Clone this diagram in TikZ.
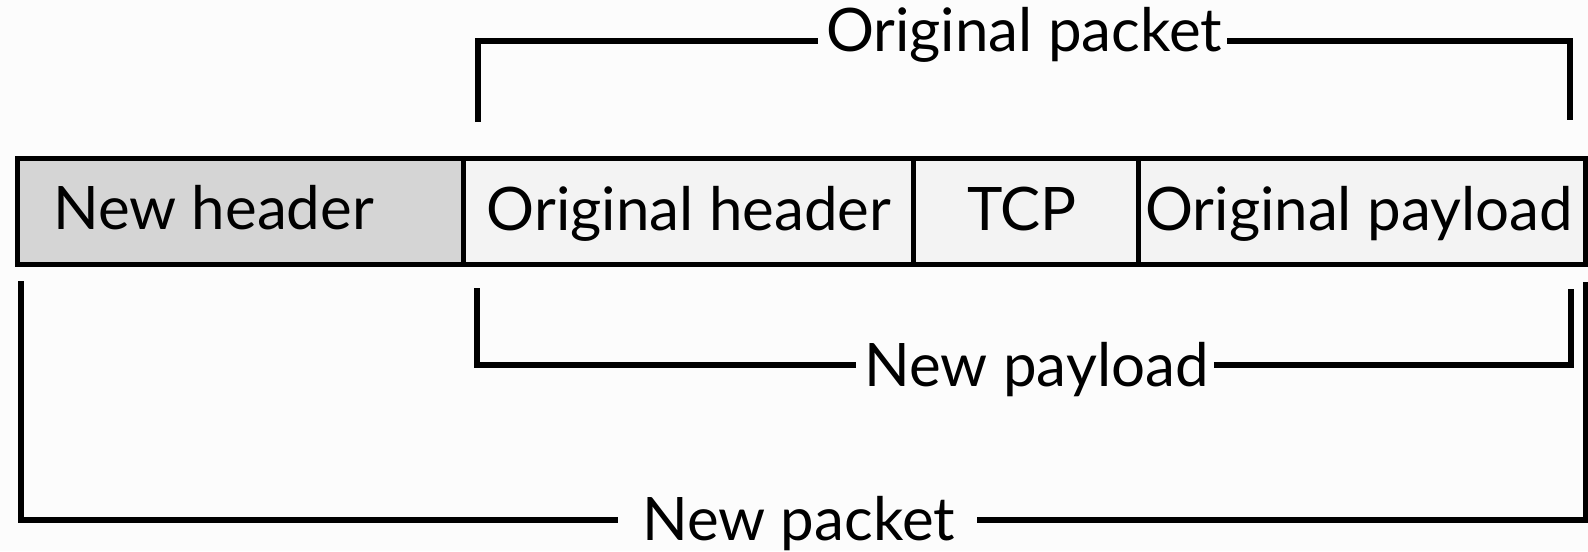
\documentclass[tikz,border=0pt]{standalone}
\usepackage{fontspec}
\setmainfont{Lato}
\usetikzlibrary{calc}
\definecolor{bg}{HTML}{FCFCFC}
\definecolor{hdrfill}{HTML}{D5D5D5}
\definecolor{cellfill}{HTML}{F3F3F3}
\begin{document}
\begin{tikzpicture}[x=0.5pt,y=-0.5pt,
  cell/.style={draw=black, line width=2.5pt, inner sep=0pt, minimum height=53pt, anchor=west},
  txt/.style={font=\fontsize{30pt}{36pt}\selectfont, inner sep=0pt, anchor=base},
  bracket/.style={draw=black, line width=3pt, line cap=butt, line join=miter}]
% canvas
\fill[bg] (0,0) rectangle (1588,551);
\useasboundingbox (0,0) rectangle (1588,551);

% packet fields
\node[cell, fill=hdrfill, minimum width=223.25pt] (nh) at (14.5,211.5) {};
\node[cell, fill=cellfill, minimum width=225pt] (oh) at (461,211.5) {};
\node[cell, fill=cellfill, minimum width=112.25pt] (tcp) at (911,211.5) {};
\node[cell, fill=cellfill, minimum width=223.5pt] (pl) at (1135.5,211.5) {};

\node[txt] (tnh) at (213.5,229) {New header};
\node[txt] (toh) at (689,230) {Original header};
\node[txt] (ttcp) at (1022,230) {TCP};
\node[txt] (tpl) at (1359,230) {Original payload};

% bracket labels
\node[txt] (op) at (1024,52) {Original packet};
\node[txt] (np) at (1036.5,386) {New payload};
\node[txt] (nk) at (798.5,540) {New packet};

% bracket ends and rails
\coordinate (opL) at (478,122);
\coordinate (opR) at (1570,120);
\coordinate (opY) at (0,41);
\coordinate (npL) at (477,288);
\coordinate (npR) at (1571,289);
\coordinate (npY) at (0,365);
\coordinate (nkL) at (20.5,281);
\coordinate (nkR) at (1585.5,282);
\coordinate (nkY) at (0,520);

% original packet bracket
\draw[bracket] (opL) |- ($(op.west |- opY)+(-4pt,0)$);
\draw[bracket] ($(op.east |- opY)+(2.5pt,0)$) -| (opR);

% new payload bracket
\draw[bracket] (npL) |- ($(np.west |- npY)+(-4pt,0)$);
\draw[bracket] ($(np.east |- npY)+(2.5pt,0)$) -| (npR);

% new packet bracket
\draw[bracket] (nkL) |- ($(nk.west |- nkY)+(-12pt,0)$);
\draw[bracket] ($(nk.east |- nkY)+(11pt,0)$) -| (nkR);
\end{tikzpicture}
\end{document}
